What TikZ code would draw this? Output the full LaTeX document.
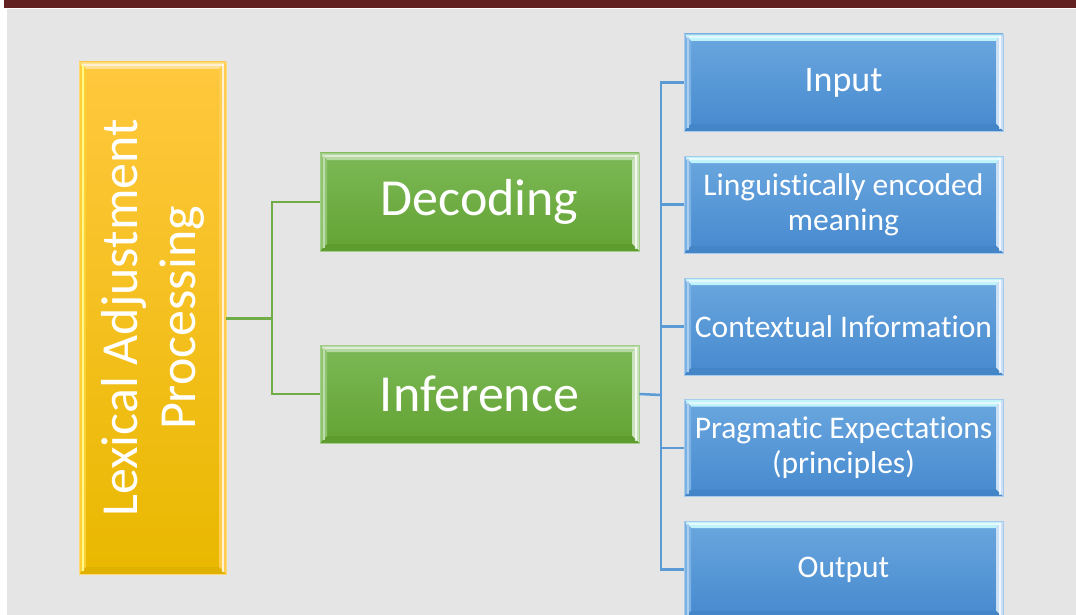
\documentclass[tikz,border=0pt]{standalone}
\usepackage{fontspec}
\setmainfont[Ligatures=NoCommon]{Carlito}
\newcommand{\nolig}{\kern0pt\relax}
\definecolor{bggray}{HTML}{E5E5E5}
\definecolor{barred}{HTML}{622222}
\definecolor{ytop}{HTML}{FFC83E}
\definecolor{ybot}{HTML}{E9B800}
\definecolor{gtop}{HTML}{7CB957}
\definecolor{gbot}{HTML}{63A232}
\definecolor{btop}{HTML}{6AA7DF}
\definecolor{bbot}{HTML}{4689CE}
\definecolor{gline}{HTML}{70AD47}
\definecolor{bline}{HTML}{5B9BD5}
\tikzset{
  bev/.style n args={5}{path picture={
    \def\bw{7pt}
    \coordinate (NW) at (path picture bounding box.north west);
    \coordinate (NE) at (path picture bounding box.north east);
    \coordinate (SW) at (path picture bounding box.south west);
    \coordinate (SE) at (path picture bounding box.south east);
    \fill[#1] (NW) -- (NE) -- ([xshift=-\bw,yshift=-\bw]NE) -- ([xshift=\bw,yshift=-\bw]NW) -- cycle;
    \fill[#2] (NW) -- ([xshift=\bw,yshift=-\bw]NW) -- ([xshift=\bw,yshift=\bw]SW) -- (SW) -- cycle;
    \fill[#3] (NE) -- ([xshift=-\bw,yshift=-\bw]NE) -- ([xshift=-\bw,yshift=\bw]SE) -- (SE) -- cycle;
    \fill[#4] (SW) -- ([xshift=\bw,yshift=\bw]SW) -- ([xshift=-\bw,yshift=\bw]SE) -- (SE) -- cycle;
    \fill[white,opacity=0.55] ([xshift=2pt,yshift=-2pt]NW) rectangle ([xshift=-2pt,yshift=-4pt]NE);
    \fill[#5] ([xshift=2.5pt,yshift=-3pt]NW) rectangle ([xshift=4.5pt,yshift=3pt]SW);
    \fill[white,opacity=0.75] ([xshift=-2pt,yshift=-2pt]NE) rectangle ([xshift=-4.5pt,yshift=2pt]SE);
  }},
  box/.style={rectangle, inner sep=0pt, text=white, align=center},
  ybox/.style={box, top color=ytop, bottom color=ybot, draw=ytop!70!white, line width=0.6pt,
    bev={ytop!55!white}{ytop!85!yellow}{ytop!90!white}{ybot!96!black}{yellow!45!white}},
  gbox/.style={box, top color=gtop, bottom color=gbot, draw=gtop!70!white, line width=0.6pt,
    minimum width=319pt, minimum height=98pt, font=\fontsize{52}{60}\selectfont,
    bev={gtop!55!white}{gtop!85!white}{gtop!40!white}{gbot!96!black}{gtop!50!white}},
  bbox/.style={box, top color=btop, bottom color=bbot, draw=btop!60!white, line width=0.6pt,
    minimum width=319pt, minimum height=97pt, font=\fontsize{31.5}{35}\selectfont,
    bev={btop!45!cyan!30!white}{btop!88!white}{btop!35!white}{bbot!97!black}{btop!55!white}},
  gl/.style={draw=gline, line width=2pt},
  bl/.style={draw=bline, line width=2.5pt},
}
\begin{document}
\begin{tikzpicture}[x=1pt,y=-1pt]
\useasboundingbox (0,0) rectangle (1076,615);
\fill[white] (0,0) rectangle (1076,615);
\fill[bggray] (7,9) rectangle (1076,615);
\fill[barred] (4,0) rectangle (1076,8.5);

\node[ybox, minimum width=147pt, minimum height=512pt] (lex) at (152.5,318) {};
\node[text=white, rotate=90, align=center, font=\fontsize{52}{58}\selectfont] (lext) at (lex.center) {Lexical Adjustment\\Processing};

\node[gbox] (dec) at (479.5,202) {Decoding};
\node[gbox] (inf) at (479.5,394) {Inference};

\node[bbox, font=\fontsize{36}{40}\selectfont] (b1) at (843.5,82.5) {Input};
\node[bbox] (b2) at (843.5,204.5) {Linguist\nolig ically encoded\\meaning};
\node[bbox] (b3) at (843.5,326.5) {Contextual Informat\nolig ion};
\node[bbox] (b4) at (843.5,448) {Pragmat\nolig ic Expectat\nolig ions\\(principles)};
\node[bbox] (b5) at (843.5,569.5) {Output};

\coordinate (gj) at (272,318);
\draw[gl, line width=3pt] (lex.east) -- (gj);
\draw[gl] (dec.west) -| (gj) |- (inf.west);

\coordinate (bj) at (661,395);
\draw[bl] (inf.east) -- (bj);
\foreach \k in {1,...,5} {\draw[bl] (bj) |- (b\k.west);}
\end{tikzpicture}
\end{document}
